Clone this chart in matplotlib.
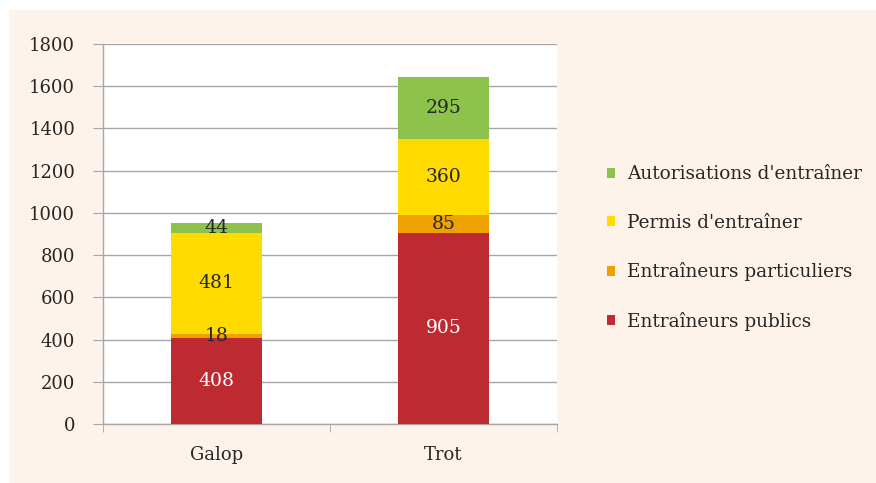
import matplotlib.pyplot as plt
import numpy as np
from matplotlib.patches import Rectangle

categories = ["Galop", "Trot"]
series_names = ["Entraîneurs publics", "Entraîneurs particuliers",
                "Permis d'entraîner", "Autorisations d'entraîner"]
publics = [408, 905]
particuliers = [18, 85]
permis = [481, 360]
autorisations = [44, 295]
yticks = [0, 200, 400, 600, 800, 1000, 1200, 1400, 1600, 1800]

colors = ["#BE2A32", "#F0A102", "#FFDB00", "#8DC24C"]
label_colors = ["white", "#262626", "#262626", "#262626"]

plt.rcParams['font.family'] = ['DejaVu Serif']

fig = plt.figure(figsize=(8.76, 4.83), dpi=100)
fig.patches.append(Rectangle((9 / 876, 0), 1 - 9 / 876, 1 - 10 / 483,
                             transform=fig.transFigure, facecolor="#FEF3EB",
                             edgecolor="none", zorder=-10))
ax = fig.add_axes([103 / 876, 59 / 483, 454 / 876, 380 / 483])
ax.set_facecolor("white")

x = np.arange(len(categories))
bottom = np.zeros(len(categories))
handles = []
for vals, name, col, lc in zip([publics, particuliers, permis, autorisations],
                               series_names, colors, label_colors):
    bars = ax.bar(x, vals, width=0.4, bottom=bottom, color=col, label=name, zorder=3)
    handles.append(bars)
    for xi, v, b in zip(x, vals, bottom):
        ax.text(xi, b + v / 2, str(v), ha="center", va="center",
                color=lc, fontsize=13.5, zorder=4)
    bottom += np.array(vals)

ax.set_xlim(-0.5, 1.5)
ax.set_ylim(0, 1800)
ax.set_yticks(yticks)
ax.set_yticklabels([str(t) for t in yticks], fontsize=13, color="#262626")
ax.set_xticks(x)
ax.set_xticklabels(categories, fontsize=13, color="#262626")
ax.set_xticks([-0.5, 0.5, 1.5], minor=True)
ax.tick_params(axis="x", which="major", length=0, pad=16)
ax.tick_params(axis="x", which="minor", length=6, color="#A6A6A6", direction="out")
ax.tick_params(axis="y", length=7, color="#A6A6A6", pad=13)
ax.grid(axis="y", color="#A6A6A6", linewidth=1, zorder=0)
for s in ["top", "right"]:
    ax.spines[s].set_visible(False)
for s in ["left", "bottom"]:
    ax.spines[s].set_color("#A6A6A6")
    ax.spines[s].set_linewidth(1)

leg = fig.legend(handles[::-1], series_names[::-1], loc="center left",
                 bbox_to_anchor=(590 / 876, 1 - 248 / 483), frameon=False,
                 fontsize=13.3, handlelength=0.45, handleheight=0.45,
                 handletextpad=0.65, labelspacing=1.65, labelcolor="#262626")

fig.savefig("out.png", dpi=100)
